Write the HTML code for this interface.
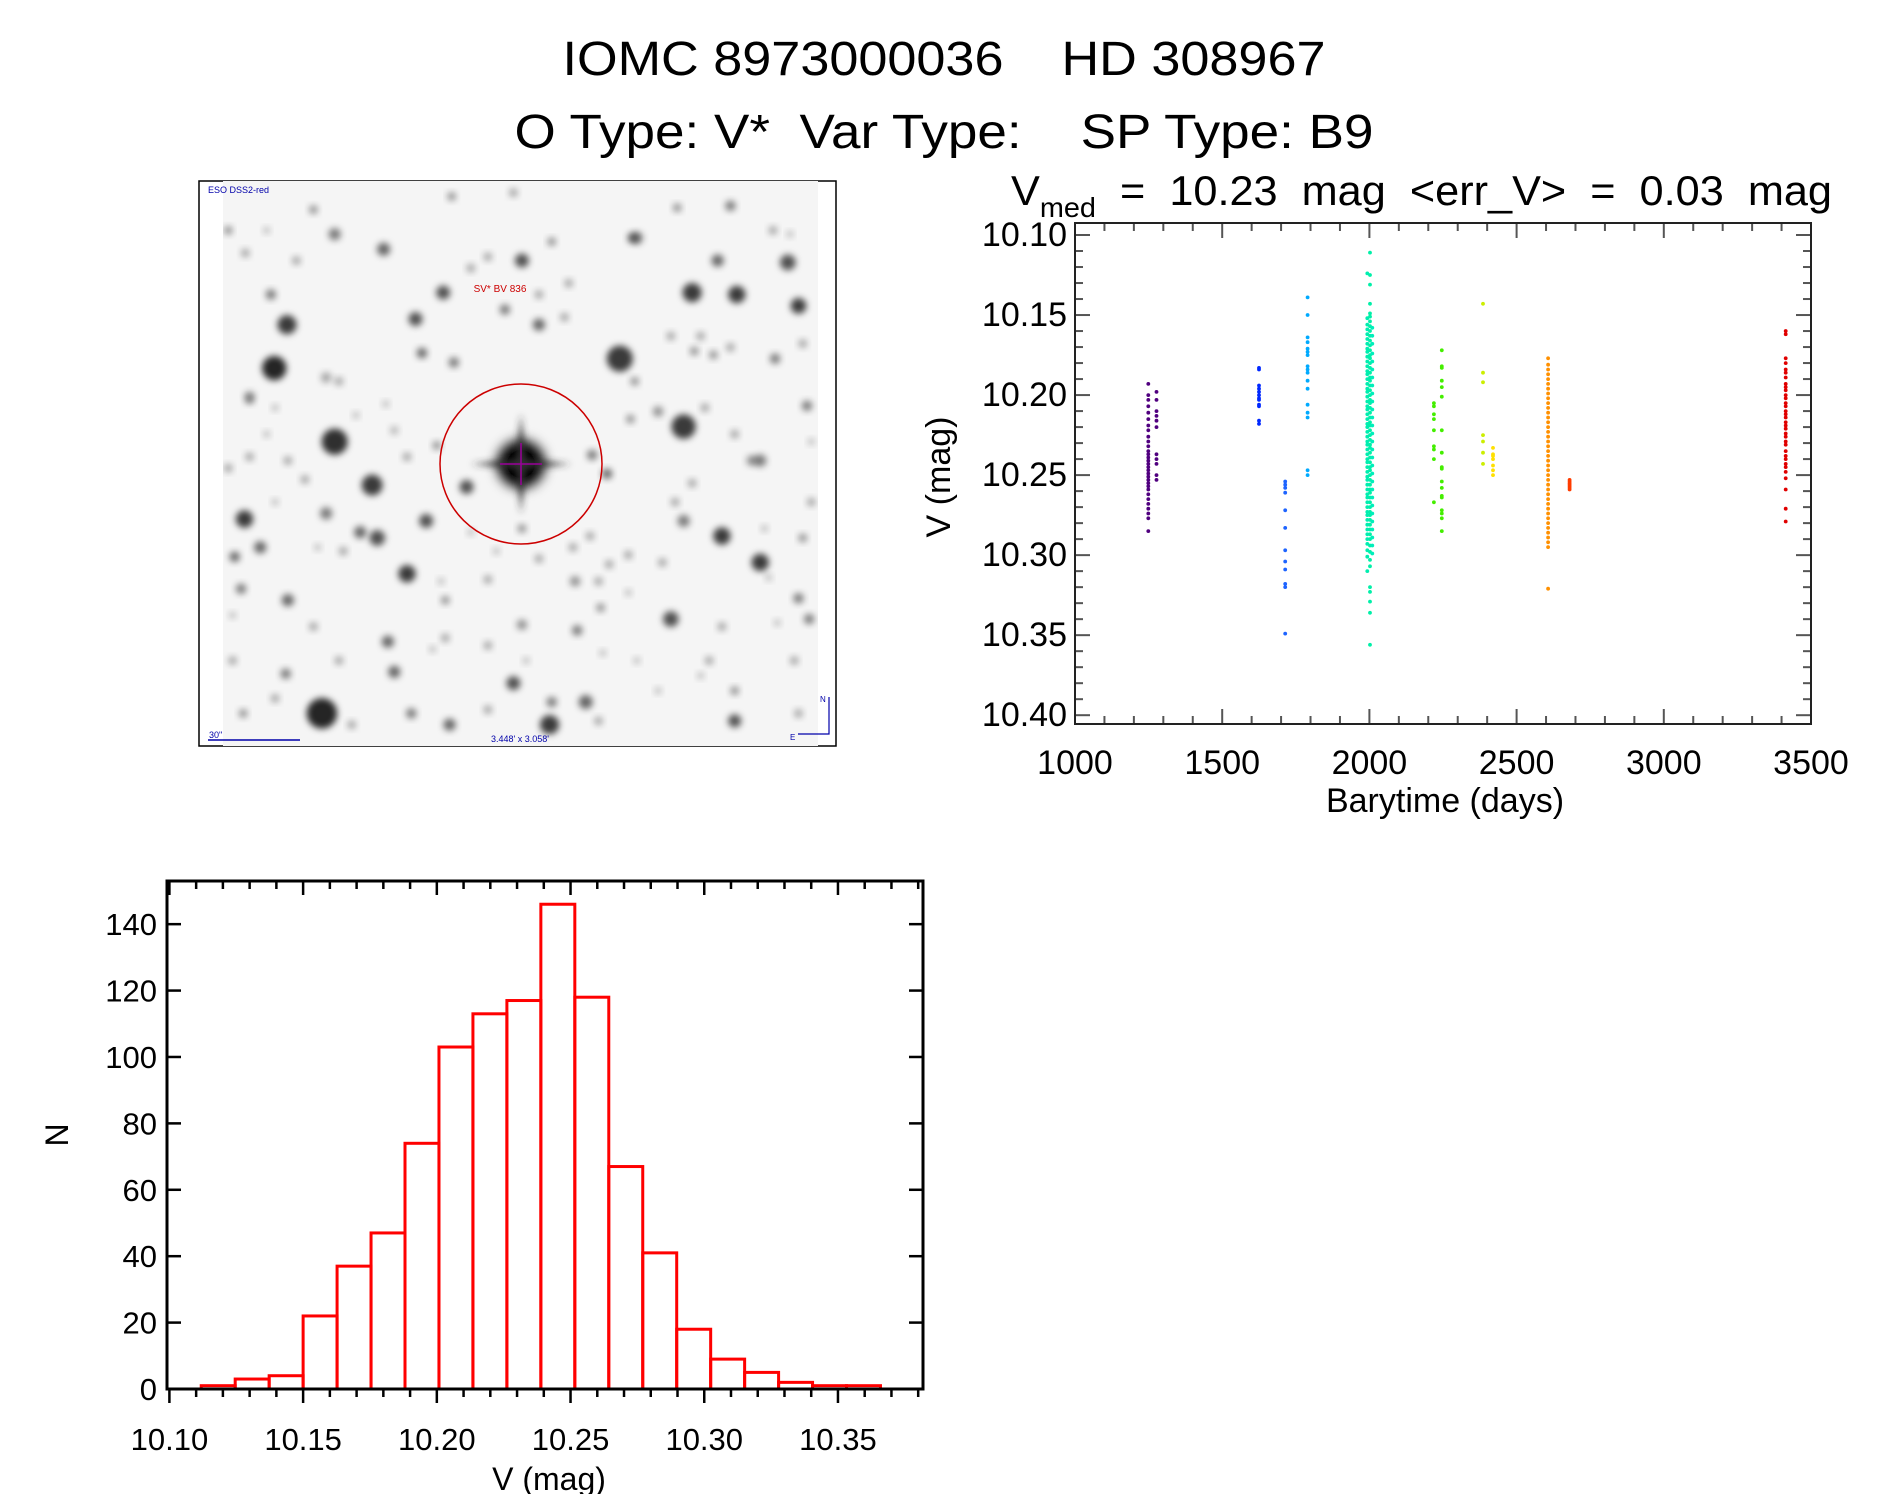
<!DOCTYPE html>
<html><head><meta charset="utf-8"><style>
html,body{margin:0;padding:0;background:#fff;}
svg{display:block;font-family:"Liberation Sans",sans-serif;}
text{white-space:pre;}
</style></head><body>
<svg id="root" width="1889" height="1494" viewBox="0 0 1889 1494" xmlns="http://www.w3.org/2000/svg" xml:space="preserve">
<defs>
<filter id="blur3" x="-50%" y="-50%" width="200%" height="200%"><feGaussianBlur stdDeviation="3.5"/></filter>
<filter id="blur6" x="-50%" y="-50%" width="200%" height="200%"><feGaussianBlur stdDeviation="6"/></filter>
<clipPath id="imgclip"><rect x="223" y="181" width="595" height="565"/></clipPath>
</defs>
<text x="944" y="75" text-anchor="middle" font-size="48" textLength="763" lengthAdjust="spacingAndGlyphs">IOMC 8973000036    HD 308967</text>
<text x="944" y="148" text-anchor="middle" font-size="48" textLength="859" lengthAdjust="spacingAndGlyphs">O Type: V*  Var Type:    SP Type: B9</text>
<text x="1011" y="205" font-size="42" textLength="821" lengthAdjust="spacingAndGlyphs">V<tspan font-size="28" dy="12">med</tspan><tspan dy="-12">  =  10.23  mag  &lt;err_V&gt;  =  0.03  mag</tspan></text>

<g id="sky">
<rect x="199" y="181" width="637" height="565" fill="#fff" stroke="#000" stroke-width="1.5"/>
<rect x="223" y="181" width="595" height="565" fill="#f5f5f5"/>
<g id="stars" clip-path="url(#imgclip)"></g>
<ellipse cx="521" cy="464" rx="81" ry="80" fill="none" stroke="#c00" stroke-width="1.5"/>
<text x="208" y="193" font-size="9" fill="#00a">ESO DSS2-red</text>
<text x="500" y="292" font-size="10" fill="#c00" text-anchor="middle">SV* BV 836</text>
<text x="209" y="738" font-size="9" fill="#00a">30"</text>
<line x1="208" y1="740" x2="300" y2="740" stroke="#00a" stroke-width="1.5"/>
<text x="520" y="742" font-size="9" fill="#00a" text-anchor="middle">3.448' x 3.058'</text>
<path d="M829 697 V734 H798" fill="none" stroke="#00a" stroke-width="1.2"/>
<text x="820" y="702" font-size="8" fill="#00a">N</text><text x="790" y="740" font-size="8" fill="#00a">E</text>
</g>

<g id="scatter"></g>
<g id="hist"></g>
</svg>
<script>
const NS="http://www.w3.org/2000/svg";
function mk(tag,attrs,parent){const e=document.createElementNS(NS,tag);for(const k in attrs)e.setAttribute(k,attrs[k]);parent.appendChild(e);return e;}

// ---------- sky image (not chart data) ----------
const starList=[[198,525,28,1],[228,410,22,.9],[340,720,30,.95],[428,835,24,.9],[128,925,20,.9],[310,1440,35,1],[510,1070,20,.9],[1010,500,30,.9],[1180,325,22,.9],[1285,330,20,.9],[1430,360,18,.9],[1160,680,28,.9],[1250,970,20,.9],[1340,1040,20,.9],[1130,1190,18,.8],[845,1470,22,.9],[760,1360,16,.8],[1280,1460,15,.8],[1405,245,18,.8],[1240,240,14,.7],[780,240,16,.8],[455,210,15,.7],[595,325,16,.8],[530,395,16,.8],[545,485,12,.7],[620,510,12,.6],[650,840,16,.8],[980,805,12,.7],[945,755,12,.6],[555,930,16,.8],[440,975,18,.8],[400,960,14,.7],[320,910,14,.6],[165,1000,14,.7],[105,1025,12,.7],[120,1110,12,.6],[230,1140,14,.7],[465,1250,14,.7],[480,1330,14,.7],[225,1335,12,.6],[610,1470,14,.7],[520,1440,12,.6],[910,1220,12,.6],[1040,180,12,.6],[1270,95,12,.6],[1145,100,10,.5],[820,410,14,.7],[740,370,12,.6],[340,170,14,.6],[290,105,10,.5],[190,330,12,.6],[140,600,12,.5],[1340,770,14,.6],[1160,930,14,.6],[1450,625,12,.6],[1375,500,12,.6],[1440,975,10,.5],[1430,1135,12,.6],[1455,1190,12,.6],[905,1090,12,.5],[780,1205,12,.5],[600,1140,10,.5],[965,1160,10,.5],[1035,660,10,.5],[1045,560,10,.5],[1230,490,10,.5],[1185,480,10,.5],[90,160,10,.5],[850,190,10,.5],[615,70,10,.5],[760,60,10,.4],[930,1410,16,.7],[850,1410,12,.6],[1280,1380,10,.5],[125,1440,10,.5],[580,730,10,.5],[780,950,10,.5],[1110,1040,10,.4],[1030,1020,10,.4],[985,1045,10,.4],
[1050,180,14,.6],[1320,770,12,.5],[1100,640,12,.5],[1210,630,10,.4],[1280,700,10,.4],[890,300,10,.4],[700,230,10,.4],[660,260,10,.4],[880,390,10,.4],[820,330,10,.4],[1130,440,10,.4],[1200,440,10,.4],[1270,470,10,.4],[320,550,12,.4],[350,560,10,.4],[140,610,10,.4],[200,630,8,.3],[180,700,8,.3],[390,650,8,.3],[460,620,8,.3],[480,690,10,.3],[510,760,10,.4],[270,820,10,.4],[200,880,8,.3],[300,1000,8,.3],[360,1010,10,.4],[660,960,8,.3],[720,1010,8,.3],[820,1030,10,.4],[900,1000,10,.4],[940,970,10,.4],[960,1090,10,.4],[1030,1120,8,.3],[700,1085,10,.4],[590,1090,8,.3],[600,1240,10,.4],[570,1270,8,.3],[700,1260,10,.4],[790,1300,8,.3],[970,1280,8,.3],[1050,1300,8,.3],[1220,1300,10,.4],[1250,1210,10,.4],[1380,1200,8,.3],[1420,1300,10,.4],[1430,1440,10,.4],[1200,1340,8,.3],[1100,1380,8,.3],[960,1460,10,.4],[700,1430,10,.4],[380,1470,10,.4],[200,1400,10,.4],[100,1300,10,.4],[290,1210,10,.4],[350,1300,10,.4],[100,1180,8,.3],[90,790,10,.4],[140,760,10,.4],[230,770,10,.4],[130,220,10,.4],[250,240,10,.4],[180,160,8,.3],[1370,160,10,.4],[1410,170,8,.3],[1440,460,10,.4],[1460,720,8,.3],[1460,880,10,.4],[1350,950,8,.3],[1180,830,10,.4],[1140,880,10,.4],[1360,1080,8,.3]];
const sg=document.getElementById('stars');
for(const s of starList){
  const c=mk('circle',{cx:190+s[0]/2.35,cy:170+s[1]/2.65,r:Math.max(3,s[2]/2.3),fill:'#000','fill-opacity':s[3]*0.85,filter:'url(#blur3)'},sg);
  
  
}
mk('circle',{cx:521,cy:464,r:24,fill:'#000',filter:'url(#blur6)'},sg);
mk('circle',{cx:521,cy:464,r:14,fill:'#000'},sg);
mk('path',{d:'M471 464 L521 459 L571 464 L521 469 Z M521 414 L526 464 L521 514 L516 464 Z',fill:'#333',filter:'url(#blur3)'},sg);
mk('path',{d:'M500 464 H542 M521 443 V485',stroke:'#909',"stroke-width":1.5},sg);

// ---------- light curve ----------
const lcTimes=[1249,1277,1625,1714,1790,1993,2002,2010,2219,2246,2386,2420,2607,2680,3414];
const lcColors=['#50007f','#50007f','#0028ff','#1e64ff','#00aaff','#00eeb0','#00f0a8','#00eebb','#44ee00','#44ee00','#ccee00','#ffe000','#ff9000','#ff3c00','#e00000'];
const lcValues=[
[10.193,10.200,10.203,10.207,10.211,10.215,10.219,10.222,10.226,10.229,10.232,10.235,10.237,10.239,10.241,10.243,10.245,10.247,10.249,10.251,10.253,10.255,10.257,10.259,10.262,10.265,10.268,10.271,10.274,10.277,10.285],
[10.198,10.203,10.210,10.213,10.216,10.220,10.237,10.240,10.243,10.250,10.253],
[10.183,10.184,10.194,10.196,10.198,10.200,10.202,10.203,10.206,10.207,10.216,10.218],
[10.254,10.256,10.258,10.261,10.272,10.283,10.297,10.304,10.309,10.318,10.320,10.349],
[10.139,10.150,10.164,10.167,10.171,10.173,10.175,10.182,10.184,10.186,10.191,10.196,10.206,10.211,10.214,10.247,10.250],
[10.124,10.152,10.156,10.159,10.162,10.165,10.168,10.171,10.173,10.176,10.179,10.182,10.185,10.187,10.190,10.193,10.196,10.198,10.201,10.204,10.207,10.209,10.212,10.215,10.218,10.220,10.223,10.226,10.229,10.231,10.234,10.237,10.240,10.242,10.245,10.248,10.251,10.253,10.256,10.259,10.262,10.264,10.267,10.270,10.273,10.275,10.278,10.281,10.284,10.287,10.290,10.293,10.297,10.301,10.310],
[10.111,10.125,10.131,10.143,10.149,10.151,10.154,10.157,10.160,10.163,10.166,10.169,10.172,10.175,10.177,10.180,10.183,10.186,10.189,10.191,10.194,10.197,10.200,10.203,10.205,10.208,10.211,10.214,10.217,10.219,10.222,10.225,10.228,10.231,10.233,10.236,10.239,10.242,10.245,10.247,10.250,10.253,10.256,10.259,10.261,10.264,10.267,10.270,10.273,10.275,10.278,10.281,10.284,10.287,10.290,10.294,10.298,10.303,10.307,10.320,10.323,10.329,10.336,10.356],
[10.158,10.163,10.168,10.174,10.179,10.184,10.189,10.194,10.199,10.204,10.209,10.214,10.219,10.224,10.229,10.234,10.239,10.244,10.249,10.254,10.259,10.264,10.269,10.274,10.279,10.284,10.289,10.294,10.299],
[10.205,10.207,10.212,10.215,10.222,10.232,10.234,10.240,10.267],
[10.172,10.182,10.183,10.191,10.195,10.201,10.222,10.236,10.245,10.246,10.254,10.258,10.263,10.264,10.272,10.274,10.277,10.285],
[10.143,10.186,10.192,10.225,10.229,10.236,10.243],
[10.233,10.237,10.238,10.240,10.244,10.247,10.250],
[10.177,10.181,10.184,10.187,10.190,10.193,10.196,10.199,10.202,10.205,10.208,10.211,10.214,10.217,10.220,10.223,10.226,10.229,10.232,10.235,10.238,10.241,10.244,10.247,10.250,10.253,10.256,10.259,10.262,10.265,10.268,10.271,10.274,10.277,10.280,10.283,10.286,10.289,10.292,10.295,10.321],
[10.253,10.254,10.255,10.256,10.257,10.258,10.259],
[10.160,10.162,10.177,10.180,10.184,10.186,10.189,10.193,10.195,10.197,10.200,10.202,10.205,10.207,10.210,10.212,10.214,10.217,10.219,10.221,10.224,10.226,10.229,10.231,10.235,10.238,10.240,10.243,10.245,10.248,10.252,10.259,10.271,10.279]
];
const lcXTicks=[1000,1500,2000,2500,3000,3500];
const lcYTicks=[10.10,10.15,10.20,10.25,10.30,10.35,10.40];

(function(){
  const g=document.getElementById('scatter');
  const L=1075,R=1811,T=223,B=724;
  const xMin=1000,xMax=3500,yTop=10.0925,yBot=10.4055;
  const X=v=>L+(v-xMin)/(xMax-xMin)*(R-L);
  const Y=v=>T+(v-yTop)/(yBot-yTop)*(B-T);
  for(let i=0;i<lcTimes.length;i++){
    for(const v of lcValues[i]){
      const c=mk('circle',{cx:X(lcTimes[i]).toFixed(1),cy:Y(v).toFixed(1),r:1.9,fill:lcColors[i]},g);
      
      
    }
  }
  const tk={stroke:'#555','stroke-width':2};
  for(let d=xMin;d<=xMax;d+=100){
    const len=(d%500===0)?15:8;
    mk('line',Object.assign({x1:X(d),x2:X(d),y1:B,y2:B-len},tk),g);
    mk('line',Object.assign({x1:X(d),x2:X(d),y1:T,y2:T+len},tk),g);
  }
  for(let k=0;k<=30;k++){
    const v=10.10+k*0.01;const len=(k%5===0)?15:8;
    mk('line',Object.assign({x1:L,x2:L+len,y1:Y(v),y2:Y(v)},tk),g);
    mk('line',Object.assign({x1:R,x2:R-len,y1:Y(v),y2:Y(v)},tk),g);
  }
  const f=mk('rect',{x:L,y:T,width:R-L,height:B-T,fill:'none',stroke:'#222','stroke-width':2},g);
  
  
  for(const t of lcXTicks){
    const e=mk('text',{x:X(t),y:774,'text-anchor':'middle','font-size':34},g);e.textContent=t;
    
    
  }
  for(const t of lcYTicks){
    const e=mk('text',{x:1067,y:Y(t)+11,'text-anchor':'end','font-size':34},g);e.textContent=t.toFixed(2);
    
    
  }
  const xt=mk('text',{x:1445,y:812,'text-anchor':'middle','font-size':34},g);xt.textContent='Barytime (days)';
  
  
  const yt=mk('text',{x:0,y:0,'text-anchor':'middle','font-size':34,transform:'translate(950,477) rotate(-90)'},g);yt.textContent='V (mag)';
  
  
})();

// ---------- histogram ----------
const histStart=10.1119;
const histWidth=0.0127;
const histCounts=[1,3,4,22,37,47,74,103,113,117,146,118,67,41,18,9,5,2,1,1];
const histXTicks=[10.10,10.15,10.20,10.25,10.30,10.35];
const histYTicks=[0,20,40,60,80,100,120,140];

(function(){
  const g=document.getElementById('hist');
  const L=167,R=923,T=881,B=1389;
  const xMin=10.0991,xMax=10.3818,yMax=153;
  const X=v=>L+(v-xMin)/(xMax-xMin)*(R-L);
  const Y=v=>B-v/yMax*(B-T);
  for(let i=0;i<histCounts.length;i++){
    const x0=X(histStart+i*histWidth),x1=X(histStart+(i+1)*histWidth);
    const r=mk('rect',{x:x0,y:Y(histCounts[i]),width:x1-x0,height:B-Y(histCounts[i]),fill:'none',stroke:'#ff0000','stroke-width':3},g);
    
    
  }
  const tk={stroke:'#000','stroke-width':2.5};
  for(let k=0;k<=28;k++){
    const v=10.10+k*0.01;const len=(k%5===0)?14:8;
    mk('line',Object.assign({x1:X(v),x2:X(v),y1:B,y2:B+len},tk),g);
    mk('line',Object.assign({x1:X(v),x2:X(v),y1:T,y2:T+len},tk),g);
  }
  for(const t of histYTicks){
    mk('line',Object.assign({x1:L,x2:L+14,y1:Y(t),y2:Y(t)},tk),g);
    mk('line',Object.assign({x1:R,x2:R-14,y1:Y(t),y2:Y(t)},tk),g);
    const e=mk('text',{x:157,y:Y(t)+11,'text-anchor':'end','font-size':31},g);e.textContent=t;
    
    
  }
  const f=mk('rect',{x:L,y:T,width:R-L,height:B-T,fill:'none',stroke:'#000','stroke-width':3},g);
  
  
  for(const t of histXTicks){
    const e=mk('text',{x:X(t),y:1450,'text-anchor':'middle','font-size':31},g);e.textContent=t.toFixed(2);
    
    
  }
  const xt=mk('text',{x:549,y:1490,'text-anchor':'middle','font-size':32},g);xt.textContent='V (mag)';
  
  
  const yt=mk('text',{x:0,y:0,'text-anchor':'middle','font-size':32,transform:'translate(68,1135) rotate(-90)'},g);yt.textContent='N';
  
  
})();
</script>
</body></html>
